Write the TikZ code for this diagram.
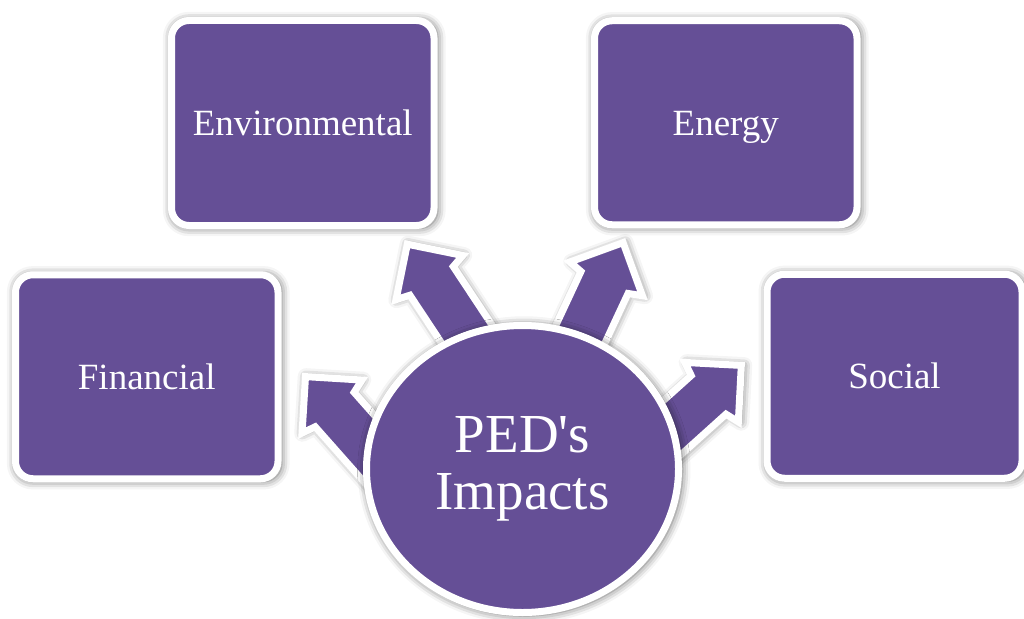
\documentclass[tikz,border=0pt]{standalone}
\usepackage{fontspec}
\setmainfont{Liberation Serif}
\newfontfamily\hubfont{Liberation Serif}
\usetikzlibrary{shapes.geometric,shadows.blur}
\definecolor{pedpurple}{RGB}{101,79,150}
\begin{document}
\begin{tikzpicture}[x=1pt,y=-1pt,
  softshadow/.style={blur shadow={shadow xshift=1.5pt,shadow yshift=-1pt,shadow scale=1.015,
    shadow blur radius=8pt,shadow opacity=60}},
  panel/.style={draw=white,line width=7pt,fill=pedpurple,softshadow},
  topic/.style={panel,rectangle,rounded corners=17.5pt,inner sep=0pt,
    minimum width=262.5pt,minimum height=204pt,text=white,
    font=\fontsize{37}{44}\selectfont,text height=25pt,text depth=0pt},
  hub/.style={panel,ellipse,inner sep=0pt,minimum width=312pt,minimum height=287pt,
    text=white,align=center,font=\hubfont\fontsize{55}{57}\selectfont},
  pics/blockarrow/.style={code={
    \draw[panel] (0,0) -- (-40,40) -- (-44,26) -- (-210,26) -- (-210,-26)
      -- (-44,-26) -- (-40,-40) -- cycle;}}
]
\useasboundingbox (0,0) rectangle (1024,618);

% block arrows radiating from the hub (tip at the pic origin)
\pic[rotate=131.5] (arrfin) at (305.5,376.6) {blockarrow};
\pic[rotate=123.5] (arrenv) at (407.3,244.2) {blockarrow};
\pic[rotate=65]    (arrene) at (623.1,242.6) {blockarrow};
\pic[rotate=42]    (arrsoc) at (741.3,365.4) {blockarrow};

% topic panels
\node[topic] (fin) at (146.75,376.75) {Financial};
\node[topic,minimum height=205pt] (env) at (302.75,123) {Environmental};
\node[topic] (ene) at (725.75,122.75) {Energy};
\node[topic,minimum width=255pt] (soc) at (894.5,376.25) {Social};

% central hub
\node[hub] (ped) at (522.5,469) {PED's\\Impacts};
\end{tikzpicture}
\end{document}
